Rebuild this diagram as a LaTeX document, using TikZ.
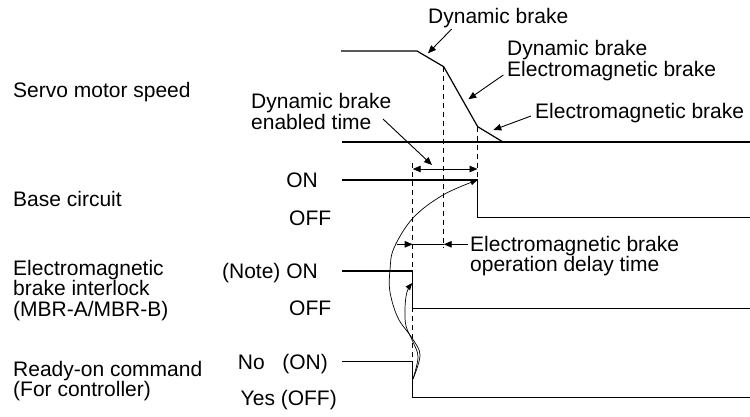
\documentclass[tikz,border=0pt]{standalone}
\usepackage{fontspec}
\setmainfont{Liberation Sans}
\usetikzlibrary{arrows.meta}

\begin{document}
\begin{tikzpicture}[x=1pt,y=-1pt,>={Stealth[length=8pt,width=6.5pt,inset=0pt]},
  every node/.style={inner sep=0pt,font=\fontsize{21}{20.5}\selectfont},
  sig/.style={line width=1.2pt},
  guide/.style={line width=0.9pt,dash pattern=on 5pt off 4pt},
  ptr/.style={->,line width=0.9pt},
  causearrow/.style={-{Stealth[length=7pt,width=5.5pt,inset=0pt]},line width=0.7pt}]
  \useasboundingbox (0,0) rectangle (750,416);
  % row labels (base of a multi-line node = its last line)
  \node[anchor=base west] (spdlbl) at (13,97) {Servo motor speed};
  \node[anchor=base west] (baselbl) at (13,206.5) {Base circuit};
  \node[anchor=base west,align=left] (mbrlbl) at (13,316) {Electromagnetic\\brake interlock\\(MBR-A/MBR-B)};
  \node[anchor=base west,align=left] (rdylbl) at (13,396.5) {Ready-on command\\(For controller)};
  % levels
  \node[anchor=base east] (baseon) at (318,187) {ON};
  \node[anchor=base west] (baseoff) at (289,225) {OFF};
  \node[anchor=base east] (mbron) at (318,278.5) {(Note) ON};
  \node[anchor=base west] (mbroff) at (289,315.5) {OFF};
  \node[anchor=base east] (rdyon) at (328,369.5) {No\ \ \ (ON)};
  \node[anchor=base east] (rdyoff) at (337,405.5) {Yes (OFF)};
  % servo motor speed (coords in px of the 750x416 frame, y down)
  \draw[sig] (341,51) -- (417,51) -- (443.7,66.7) -- (477.7,126.7) -- (503,142);
  \draw[sig] (342,142) -- (750,142);
  % base circuit, MBR, ready-on
  \foreach \nm/\xf/\yh/\yl in {base/477.5/180/217.7, mbr/412.7/271/308.3, rdy/412.7/361.7/397.7}{
    \draw[sig] (342,\yh) -- (\xf,\yh) coordinate (\nm hi) -- (\xf,\yl) coordinate (\nm lo) -- (750,\yl);
  }
  % dashed timing lines
  \draw[guide] (412.7,163) -- (412.7,361.7);
  \draw[guide] (443.7,66.7) -- (443.7,248);
  \draw[guide] (477.5,126.7) -- (477.5,180);
  % brake labels and pointers
  \node[anchor=base west] (dblbl) at (428,23) {Dynamic brake};
  \node[anchor=base west,align=left] (dbemlbl) at (507,76) {Dynamic brake\\Electromagnetic brake};
  \node[anchor=base west] (emlbl) at (535,118) {Electromagnetic brake};
  \node[anchor=base west,align=left] (dbtlbl) at (251,129) {Dynamic brake\\enabled time};
  \node[anchor=base west,align=left] (emtlbl) at (470,271.5) {Electromagnetic brake\\operation delay time};
  \coordinate (p1) at (451.7,29);   \coordinate (t1) at (428,53.3);
  \coordinate (p2) at (503.3,75);   \coordinate (t2) at (468.3,99.3);
  \coordinate (p3) at (531,116);    \coordinate (t3) at (493.3,130);
  \coordinate (p4) at (383,119);    \coordinate (t4) at (432,165);
  \draw[ptr] (p1) -- (t1);
  \draw[ptr] (p2) -- (t2);
  \draw[ptr] (p3) -- (t3);
  \draw[ptr] (p4) -- (t4);
  % enabled time
  \coordinate (dbs) at (412.7,169); \coordinate (dbe) at (477.5,169);
  \draw[<->,line width=0.9pt] (dbs) -- (dbe);
  % operation delay time
  \coordinate (dl0) at (397,244.3); \coordinate (dl1) at (412.7,244.3);
  \coordinate (dl2) at (443.7,244.3); \coordinate (dl3) at (468,244.3);
  \draw[ptr] (dl0) -- (dl1);
  \draw[line width=0.9pt] (dl1) -- (dl2);
  \draw[ptr] (dl3) -- (dl2);
  % cause/effect curves from ready-on
  \coordinate (rdymid) at (413,379);
  \coordinate (mbrmid) at (412.3,283);
  \draw[causearrow] plot[smooth,tension=0.6] coordinates {(rdymid)(420,355)(412,338)(398,318)(390,292)(390,270)(394,248)(413,218)(443,195)(basehi)};
  \draw[causearrow] plot[smooth,tension=0.6] coordinates {(rdymid)(418,357)(413,342)(406,326)(405,308)(407,292)(mbrmid)};
\end{tikzpicture}
\end{document}
